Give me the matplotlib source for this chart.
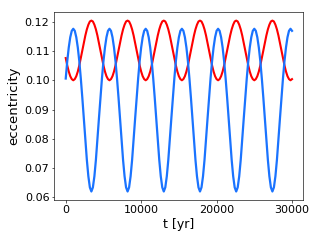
import numpy as np
import matplotlib
matplotlib.use('Agg')
import matplotlib.pyplot as plt

# time grid [yr], one sample every 200 yr
t = np.arange(0, 30001, 200)

# eccentricity of the inner body (blue)
e_blue = [
    0.1006, 0.1065, 0.1112, 0.1147, 0.1169, 0.1176, 0.1169, 0.1147, 0.1112, 0.1065, 0.1006, 0.0940,
    0.0869, 0.0796, 0.0728, 0.0672, 0.0634, 0.0620, 0.0634, 0.0672, 0.0728, 0.0796, 0.0869, 0.0940,
    0.1006, 0.1065, 0.1112, 0.1147, 0.1169, 0.1176, 0.1169, 0.1147, 0.1112, 0.1065, 0.1006, 0.0940,
    0.0869, 0.0796, 0.0728, 0.0672, 0.0634, 0.0620, 0.0634, 0.0672, 0.0728, 0.0796, 0.0869, 0.0940,
    0.1006, 0.1065, 0.1112, 0.1147, 0.1169, 0.1176, 0.1169, 0.1147, 0.1112, 0.1065, 0.1006, 0.0940,
    0.0869, 0.0796, 0.0728, 0.0672, 0.0634, 0.0620, 0.0634, 0.0672, 0.0728, 0.0796, 0.0869, 0.0940,
    0.1006, 0.1065, 0.1112, 0.1147, 0.1169, 0.1176, 0.1169, 0.1147, 0.1112, 0.1065, 0.1006, 0.0940,
    0.0869, 0.0796, 0.0728, 0.0672, 0.0634, 0.0620, 0.0634, 0.0672, 0.0728, 0.0796, 0.0869, 0.0940,
    0.1006, 0.1065, 0.1112, 0.1147, 0.1169, 0.1176, 0.1169, 0.1147, 0.1112, 0.1065, 0.1006, 0.0940,
    0.0869, 0.0796, 0.0728, 0.0672, 0.0634, 0.0620, 0.0634, 0.0672, 0.0728, 0.0796, 0.0869, 0.0940,
    0.1006, 0.1065, 0.1112, 0.1147, 0.1169, 0.1176, 0.1169, 0.1147, 0.1112, 0.1065, 0.1006, 0.0940,
    0.0869, 0.0796, 0.0728, 0.0672, 0.0634, 0.0620, 0.0634, 0.0672, 0.0728, 0.0796, 0.0869, 0.0940,
    0.1006, 0.1065, 0.1112, 0.1147, 0.1169, 0.1176, 0.1169,
]

# eccentricity of the outer body (red)
e_red = [
    0.1076, 0.1051, 0.1030, 0.1014, 0.1004, 0.1000, 0.1004, 0.1014, 0.1030, 0.1051, 0.1076, 0.1102,
    0.1128, 0.1153, 0.1174, 0.1190, 0.1201, 0.1204, 0.1201, 0.1190, 0.1174, 0.1153, 0.1128, 0.1102,
    0.1076, 0.1051, 0.1030, 0.1014, 0.1004, 0.1000, 0.1004, 0.1014, 0.1030, 0.1051, 0.1076, 0.1102,
    0.1128, 0.1153, 0.1174, 0.1190, 0.1201, 0.1204, 0.1201, 0.1190, 0.1174, 0.1153, 0.1128, 0.1102,
    0.1076, 0.1051, 0.1030, 0.1014, 0.1004, 0.1000, 0.1004, 0.1014, 0.1030, 0.1051, 0.1076, 0.1102,
    0.1128, 0.1153, 0.1174, 0.1190, 0.1201, 0.1204, 0.1201, 0.1190, 0.1174, 0.1153, 0.1128, 0.1102,
    0.1076, 0.1051, 0.1030, 0.1014, 0.1004, 0.1000, 0.1004, 0.1014, 0.1030, 0.1051, 0.1076, 0.1102,
    0.1128, 0.1153, 0.1174, 0.1190, 0.1201, 0.1204, 0.1201, 0.1190, 0.1174, 0.1153, 0.1128, 0.1102,
    0.1076, 0.1051, 0.1030, 0.1014, 0.1004, 0.1000, 0.1004, 0.1014, 0.1030, 0.1051, 0.1076, 0.1102,
    0.1128, 0.1153, 0.1174, 0.1190, 0.1201, 0.1204, 0.1201, 0.1190, 0.1174, 0.1153, 0.1128, 0.1102,
    0.1076, 0.1051, 0.1030, 0.1014, 0.1004, 0.1000, 0.1004, 0.1014, 0.1030, 0.1051, 0.1076, 0.1102,
    0.1128, 0.1153, 0.1174, 0.1190, 0.1201, 0.1204, 0.1201, 0.1190, 0.1174, 0.1153, 0.1128, 0.1102,
    0.1076, 0.1051, 0.1030, 0.1014, 0.1004, 0.1000, 0.1004,
]


def main():
    # the original looks like a downscaled default figure, so thin ticks and spines
    plt.rcParams['font.size'] = 8
    plt.rcParams['axes.linewidth'] = 0.45
    for ax_name in ('xtick', 'ytick'):
        plt.rcParams[ax_name + '.major.size'] = 1.8
        plt.rcParams[ax_name + '.major.width'] = 0.45
        plt.rcParams[ax_name + '.major.pad'] = 1.8
        plt.rcParams[ax_name + '.labelsize'] = 8

    fig = plt.figure(figsize=(3.22, 2.41), dpi=100)
    ax = fig.add_axes([0.169, 0.170, 0.773, 0.780])

    ax.plot(t, e_red, color='red', lw=1.5)
    ax.plot(t, e_blue, color='#1a73ff', lw=1.6)

    ax.set_xticks([0, 10000, 20000, 30000])
    ax.set_yticks([0.06, 0.07, 0.08, 0.09, 0.10, 0.11, 0.12])
    ax.set_xlabel('t [yr]', fontsize=9, labelpad=2)
    ax.set_ylabel('eccentricity', fontsize=9.5, labelpad=3)

    fig.savefig('out.png', dpi=100)


if __name__ == "__main__":
    main()
